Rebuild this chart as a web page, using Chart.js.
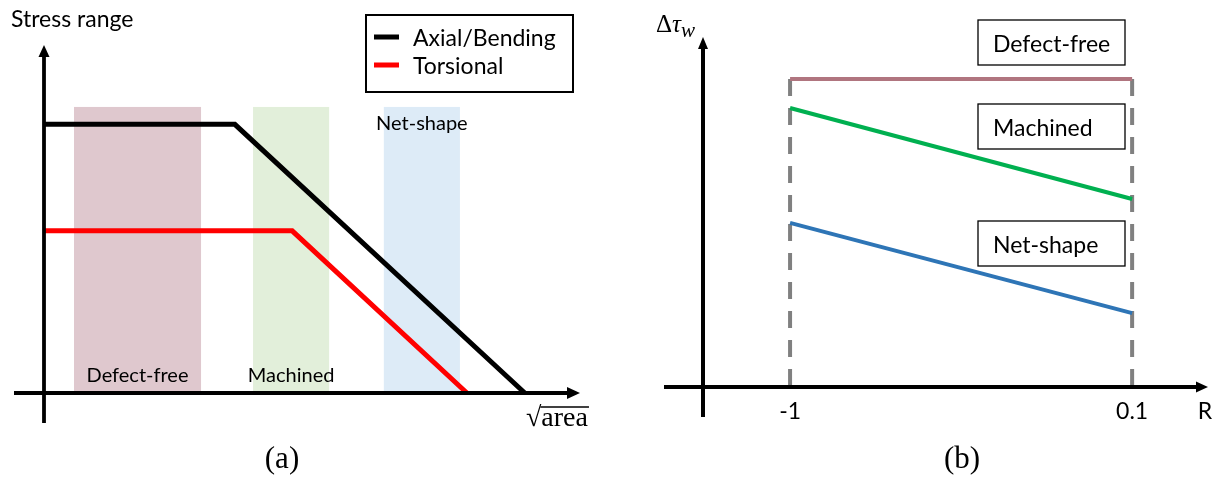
<!DOCTYPE html>
<html>
<head>
<meta charset="utf-8">
<script src="https://cdn.jsdelivr.net/npm/chart.js@4.4.0/dist/chart.umd.min.js"></script>
<style>
  html, body { margin: 0; padding: 0; background: #fff; }
  #wrap { width: 1220px; height: 481px; display: flex; }
  canvas { display: block; }
</style>
</head>
<body>
<div id="wrap">
  <canvas id="chartA" width="610" height="481"></canvas>
  <canvas id="chartB" width="610" height="481"></canvas>
</div>
<script>
// panel (a): stress range vs sqrt(area), schematic units 0..10
const axialX = [0, 3.56, 8.97];
const axialY = [7.72, 7.72, 0];
const torsionX = [0, 4.63, 7.89];
const torsionY = [4.66, 4.66, 0];
const bandNames = ["Defect-free", "Machined", "Net-shape"];
const bandFrom = [0.56, 3.9, 6.34];
const bandTo = [2.93, 5.32, 7.76];
const bandTop = 8.22;

// panel (b): fatigue limit vs load ratio R
const rTicks = [-1, 0.1];
const rTickLabels = ["-1", "0.1"];
const defectFree = [8.8, 8.8];
const machined = [7.97, 5.37];
const netShape = [4.69, 2.11];

const SANS = "Lato";
const SERIF = '"Liberation Serif"';
const bandColors = ["#DFC8CE", "#E2EFDA", "#DDEBF7"];

const toPts = (xs, ys) => xs.map((x, i) => ({ x: x, y: ys[i] }));

const lineSet = (label, data, color, width, extra) => Object.assign({
	label: label,
	data: data,
	borderColor: color,
	backgroundColor: color,
	borderWidth: width,
	showLine: true,
	pointRadius: 0,
	borderJoinStyle: "miter",
	borderCapStyle: "butt",
	fill: false,
	clip: false,
}, extra || {});

const arrow = (ctx, x1, y1, x2, y2, width, head, half) => {
	const a = Math.atan2(y2 - y1, x2 - x1);
	ctx.save();
	ctx.strokeStyle = "#000";
	ctx.fillStyle = "#000";
	ctx.lineWidth = width;
	ctx.beginPath();
	ctx.moveTo(x1, y1);
	ctx.lineTo(x2 - (head - 1) * Math.cos(a), y2 - (head - 1) * Math.sin(a));
	ctx.stroke();
	ctx.translate(x2, y2);
	ctx.rotate(a);
	ctx.beginPath();
	ctx.moveTo(0, 0);
	ctx.lineTo(-head, -half);
	ctx.lineTo(-head, half);
	ctx.closePath();
	ctx.fill();
	ctx.restore();
};

const baseOptions = (padding) => ({
	responsive: false,
	devicePixelRatio: 1,
	animation: false,
	events: [],
	layout: { padding: padding },
	plugins: { legend: { display: false }, tooltip: { enabled: false } },
});

// ---------- panel (a) ----------
const panelA = {
	id: "panelA",
	beforeDatasetsDraw(chart) {
		const { ctx, scales: { x, y } } = chart;
		const b = y.getPixelForValue(0);
		const t = y.getPixelForValue(bandTop);
		ctx.save();
		bandNames.forEach((name, i) => {
			const l = x.getPixelForValue(bandFrom[i]);
			const r = x.getPixelForValue(bandTo[i]);
			ctx.fillStyle = bandColors[i];
			ctx.fillRect(l, t, r - l, b - t);
			ctx.fillStyle = "#000";
			ctx.font = "20px " + SANS;
			ctx.textAlign = "center";
			ctx.textBaseline = "alphabetic";
			// the last label sits above its band
			ctx.fillText(name, (l + r) / 2, i === 2 ? t + 23 : b - 11);
		});
		ctx.restore();
	},
	afterDatasetsDraw(chart) {
		const { ctx, scales: { x, y } } = chart;
		const ox = x.getPixelForValue(0);
		const oy = y.getPixelForValue(0);
		arrow(ctx, ox - 30, oy, x.right, oy, 3.8, 13, 6);
		arrow(ctx, ox, oy + 30, ox, y.top, 3.8, 12, 5.5);

		ctx.save();
		ctx.fillStyle = "#000";
		ctx.font = "23px " + SANS;
		ctx.textBaseline = "alphabetic";
		ctx.textAlign = "left";
		ctx.fillText("Stress range", 11, 27);

		// legend box
		ctx.lineWidth = 2;
		ctx.strokeStyle = "#000";
		ctx.strokeRect(366, 15, 207, 77);
		chart.data.datasets.forEach((ds, i) => {
			const ly = 37 + i * 28;
			ctx.fillStyle = ds.borderColor;
			ctx.fillRect(374, ly - 2.5, 25, 5);
			ctx.fillStyle = "#000";
			ctx.fillText(ds.label, 413, ly + 9);
		});

		// sqrt(area) axis title
		ctx.font = "28px " + SERIF;
		ctx.fillText("\u221Aarea", 526, 426);
		const rw = ctx.measureText("\u221A").width;
		const tw = ctx.measureText("\u221Aarea").width;
		ctx.lineWidth = 1.5;
		ctx.beginPath();
		ctx.moveTo(526 + rw - 1, 407);
		ctx.lineTo(526 + tw + 1, 407);
		ctx.stroke();

		ctx.font = "31px " + SERIF;
		ctx.textAlign = "center";
		ctx.textBaseline = "middle";
		ctx.fillText("(a)", 282, 460);
		ctx.restore();
	},
};

new Chart(document.getElementById("chartA"), {
	type: "scatter",
	data: {
		datasets: [
			lineSet("Axial/Bending", toPts(axialX, axialY), "#000000", 5),
			lineSet("Torsional", toPts(torsionX, torsionY), "#FF0000", 5),
		],
	},
	options: Object.assign(baseOptions({ left: 44, right: 30, top: 45, bottom: 88 }), {
		scales: {
			x: { type: "linear", min: 0, max: 10, display: false },
			y: { type: "linear", min: 0, max: 10, display: false },
		},
	}),
	plugins: [panelA],
});

// ---------- panel (b) ----------
const boxes = [
	{ text: "Defect-free", top: 20 },
	{ text: "Machined", top: 104 },
	{ text: "Net-shape", top: 221 },
];

const panelB = {
	id: "panelB",
	afterDatasetsDraw(chart) {
		const { ctx, scales: { x, y } } = chart;
		const ox = x.left;
		const oy = y.getPixelForValue(0);
		arrow(ctx, ox - 39, oy, x.right, oy, 4, 12, 5.5);
		arrow(ctx, ox, oy + 30, ox, y.top, 4, 12, 5);

		ctx.save();
		ctx.fillStyle = "#000";
		ctx.font = "23px " + SANS;
		ctx.textAlign = "center";
		ctx.textBaseline = "alphabetic";
		rTicks.forEach((v, i) => {
			ctx.fillText(rTickLabels[i], x.getPixelForValue(v), oy + 32);
		});
		ctx.fillText("R", x.right - 3, oy + 32);

		// boxed series labels
		ctx.textAlign = "left";
		ctx.lineWidth = 1.3;
		ctx.strokeStyle = "#000";
		boxes.forEach((bx) => {
			ctx.fillStyle = "#fff";
			ctx.fillRect(368, bx.top, 147, 45);
			ctx.strokeRect(368, bx.top, 147, 45);
			ctx.fillStyle = "#000";
			ctx.fillText(bx.text, 383, bx.top + 32);
		});

		// y title: delta tau_w
		ctx.font = "25px " + SERIF;
		ctx.fillText("\u0394", 46, 32);
		let cx = 46 + ctx.measureText("\u0394").width;
		ctx.font = "italic 25px " + SERIF;
		ctx.fillText("\u03C4", cx, 32);
		cx += ctx.measureText("\u03C4").width;
		ctx.font = "italic 21px " + SERIF;
		ctx.fillText("w", cx, 37);

		ctx.font = "31px " + SERIF;
		ctx.textAlign = "center";
		ctx.textBaseline = "middle";
		ctx.fillText("(b)", 352, 460);
		ctx.restore();
	},
};

const dash = { borderDash: [17, 12] };

new Chart(document.getElementById("chartB"), {
	type: "scatter",
	data: {
		datasets: [
			lineSet("Defect-free", toPts(rTicks, defectFree), "#B0757F", 4),
			lineSet("Machined", toPts(rTicks, machined), "#00B050", 4),
			lineSet("Net-shape", toPts(rTicks, netShape), "#2E75B6", 4),
			lineSet("R = -1", [{ x: rTicks[0], y: defectFree[0] }, { x: rTicks[0], y: 0 }], "#808080", 4, dash),
			lineSet("R = 0.1", [{ x: rTicks[1], y: defectFree[1] }, { x: rTicks[1], y: 0 }], "#808080", 4, dash),
		],
	},
	options: Object.assign(baseOptions({ left: 93, right: 12, top: 37, bottom: 94 }), {
		scales: {
			x: { type: "linear", min: -1.28, max: 0.344, display: false },
			y: { type: "linear", min: 0, max: 10, display: false },
		},
	}),
	plugins: [panelB],
});
</script>
</body>
</html>
